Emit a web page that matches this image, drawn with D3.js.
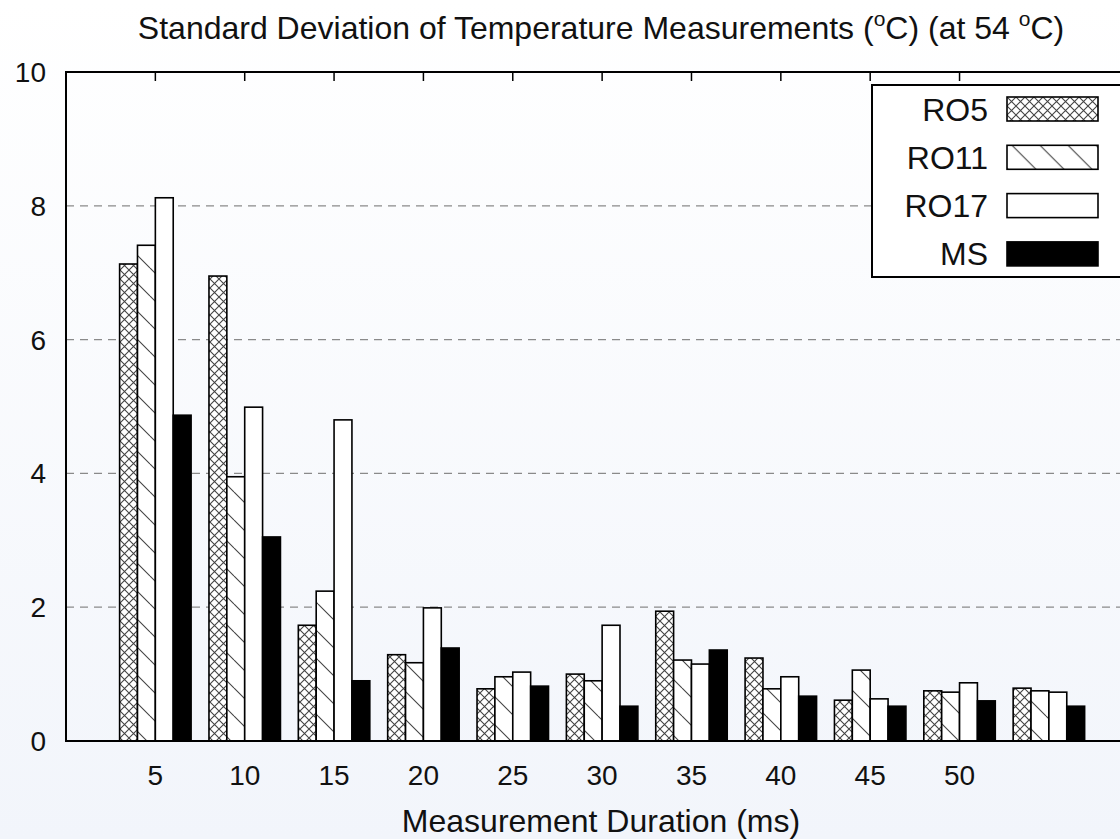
<!DOCTYPE html>
<html>
<head>
<meta charset="utf-8">
<script src="https://cdn.jsdelivr.net/npm/d3@7/dist/d3.min.js"></script>
<style>
  body { margin: 0; background: #fff; }
  svg text { font-family: "Liberation Sans", Arial, sans-serif; fill: #111; }
</style>
</head>
<body>
<svg id="chart"></svg>
<script>
// durations (last group has no label in the original)
const durations = ["5", "10", "15", "20", "25", "30", "35", "40", "45", "50", ""];
const seriesNames = ["RO5", "RO11", "RO17", "MS"];

const ro5  = [7.13, 6.95, 1.73, 1.29, 0.78, 1.00, 1.94, 1.24, 0.61, 0.75, 0.79];
const ro11 = [7.41, 3.95, 2.24, 1.17, 0.96, 0.90, 1.21, 0.78, 1.06, 0.73, 0.75];
const ro17 = [8.12, 4.99, 4.80, 1.99, 1.03, 1.73, 1.15, 0.96, 0.63, 0.87, 0.73];
const ms   = [4.87, 3.05, 0.90, 1.39, 0.82, 0.52, 1.36, 0.67, 0.52, 0.60, 0.52];

const yTicks = [0, 2, 4, 6, 8, 10];

const config = {
	width: 1120,
	height: 839,
	margin: {top: 72, right: -12, bottom: 98, left: 66}
};

const svg = d3.select('#chart')
	.attr('width', config.width)
	.attr('height', config.height);

const defs = svg.append('defs');

// light background gradient
const grad = defs.append('linearGradient')
	.attr('id', 'bg-grad')
	.attr('x1', 0).attr('y1', 0).attr('x2', 0).attr('y2', 1);
grad.append('stop').attr('offset', '0%').attr('stop-color', '#ffffff');
grad.append('stop').attr('offset', '100%').attr('stop-color', '#f2f5fb');

// crosshatch for RO5
const cross = defs.append('pattern')
	.attr('id', 'pat-cross')
	.attr('patternUnits', 'userSpaceOnUse')
	.attr('width', 9).attr('height', 9);
cross.append('rect').attr('width', 9).attr('height', 9).attr('fill', '#fff');
cross.append('path')
	.attr('d', 'M0,0 L9,9 M9,0 L0,9')
	.attr('stroke', '#444').attr('stroke-width', 1.1);

// back-diagonal lines for RO11
const diag = defs.append('pattern')
	.attr('id', 'pat-diag')
	.attr('patternUnits', 'userSpaceOnUse')
	.attr('width', 28).attr('height', 28);
diag.append('rect').attr('width', 28).attr('height', 28).attr('fill', '#fff');
diag.append('path')
	.attr('d', 'M0,0 L28,28 M-14,14 L0,28 M14,-14 L28,0')
	.attr('stroke', '#444').attr('stroke-width', 1.1);

const fills = ['url(#pat-cross)', 'url(#pat-diag)', '#ffffff', '#000000'];

svg.append('rect')
	.attr('width', config.width)
	.attr('height', config.height)
	.attr('fill', 'url(#bg-grad)');

const width = config.width - config.margin.left - config.margin.right;
const height = config.height - config.margin.top - config.margin.bottom;

const chart = svg.append('g')
	.attr('transform', `translate(${config.margin.left},${config.margin.top})`);

// groups sit at integer positions, axis runs a bit wider on both sides
const xScale = d3.scaleLinear()
	.domain([-1, 10.93])
	.range([0, width]);

const yScale = d3.scaleLinear()
	.domain([0, 10])
	.range([height, 0]);

const barW = xScale(0.2) - xScale(0);

// dashed gridlines
chart.selectAll('.grid')
	.data(yTicks.filter(d => d > 0 && d < 10))
	.join('line')
	.attr('class', 'grid')
	.attr('x1', 0).attr('x2', width)
	.attr('y1', d => yScale(d)).attr('y2', d => yScale(d))
	.attr('stroke', '#8a8a8a')
	.attr('stroke-width', 1.2)
	.attr('stroke-dasharray', '8,6');

// bars
const series = [ro5, ro11, ro17, ms];
const barData = [];
series.forEach((vals, s) => {
	vals.forEach((v, i) => barData.push({s: s, i: i, v: v}));
});

chart.selectAll('.bar')
	.data(barData)
	.join('rect')
	.attr('class', 'bar')
	.attr('x', d => xScale(d.i) + (d.s - 2) * barW)
	.attr('width', barW)
	.attr('y', d => yScale(d.v))
	.attr('height', d => yScale(0) - yScale(d.v))
	.attr('fill', d => fills[d.s])
	.attr('stroke', '#000')
	.attr('stroke-width', 1.6);

// frame
chart.append('rect')
	.attr('width', width)
	.attr('height', height)
	.attr('fill', 'none')
	.attr('stroke', '#000')
	.attr('stroke-width', 2);

// top mirror ticks
chart.selectAll('.top-tick')
	.data(durations.map((d, i) => i).filter(i => durations[i] !== ''))
	.join('line')
	.attr('class', 'top-tick')
	.attr('x1', d => xScale(d)).attr('x2', d => xScale(d))
	.attr('y1', 0).attr('y2', 9)
	.attr('stroke', '#000').attr('stroke-width', 1.5);

// y tick labels
chart.selectAll('.ylab')
	.data(yTicks)
	.join('text')
	.attr('class', 'ylab')
	.attr('x', -20)
	.attr('y', d => yScale(d))
	.attr('dy', '0.36em')
	.attr('text-anchor', 'end')
	.attr('font-size', 28)
	.text(d => d);

// x tick labels
chart.selectAll('.xlab')
	.data(durations)
	.join('text')
	.attr('class', 'xlab')
	.attr('x', (d, i) => xScale(i))
	.attr('y', height + 44)
	.attr('text-anchor', 'middle')
	.attr('font-size', 28)
	.text(d => d);

// axis title
svg.append('text')
	.attr('x', 601)
	.attr('y', 832)
	.attr('text-anchor', 'middle')
	.attr('font-size', 32)
	.text('Measurement Duration (ms)');

// title with superscripts
const title = svg.append('text')
	.attr('x', 601)
	.attr('y', 39)
	.attr('text-anchor', 'middle')
	.attr('font-size', 32);
title.append('tspan').text('Standard Deviation of Temperature Measurements (');
title.append('tspan').attr('dy', -13).attr('font-size', 21).text('o');
title.append('tspan').attr('dy', 13).text('C) (at 54 ');
title.append('tspan').attr('dy', -13).attr('font-size', 21).text('o');
title.append('tspan').attr('dy', 13).text('C)');

// legend
const legend = svg.append('g').attr('transform', 'translate(872,85)');
legend.append('rect')
	.attr('width', 260).attr('height', 192)
	.attr('fill', '#fff')
	.attr('stroke', '#000').attr('stroke-width', 2);

const legendItems = legend.selectAll('.leg')
	.data(seriesNames)
	.join('g')
	.attr('class', 'leg')
	.attr('transform', (d, i) => `translate(0,${12 + i * 48.3})`);

legendItems.append('text')
	.attr('x', 116)
	.attr('y', 12)
	.attr('dy', '0.36em')
	.attr('text-anchor', 'end')
	.attr('font-size', 32)
	.text(d => d);

legendItems.append('rect')
	.attr('x', 135).attr('y', 0)
	.attr('width', 91).attr('height', 24)
	.attr('fill', (d, i) => fills[i])
	.attr('stroke', '#000').attr('stroke-width', 1.6);
</script>
</body>
</html>
